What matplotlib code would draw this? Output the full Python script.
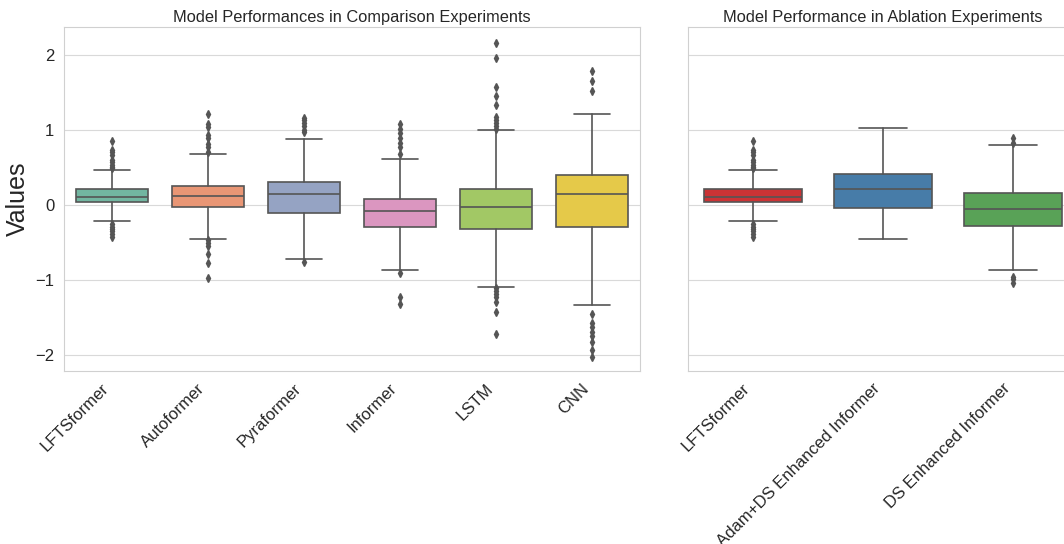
import matplotlib

matplotlib.use("Agg")
import matplotlib.pyplot as plt  # noqa: E402
import seaborn as sns  # noqa: E402

# Left panel: comparison experiments
comp_names = ["LFTSformer", "Autoformer", "Pyraformer", "Informer", "LSTM", "CNN"]
comp_q1 = [0.035, -0.031, -0.107, -0.29, -0.316, -0.298]
comp_med = [0.11, 0.12, 0.147, -0.085, -0.03, 0.147]
comp_q3 = [0.213, 0.258, 0.31, 0.085, 0.22, 0.395]
comp_whislo = [-0.218, -0.449, -0.715, -0.858, -1.09, -1.33]
comp_whishi = [0.47, 0.675, 0.875, 0.62, 0.995, 1.21]
comp_fliers = [
    [0.853, 0.74, 0.71, 0.67, 0.6, 0.57, 0.54, 0.51, 0.49,
     -0.25, -0.29, -0.32, -0.35, -0.38, -0.42],
    [1.21, 1.08, 1.035, 0.93, 0.89, 0.82, 0.77, 0.71,
     -0.47, -0.51, -0.55, -0.645, -0.77, -0.97],
    [1.16, 1.13, 1.10, 1.05, 1.0, 0.97, -0.755],
    [1.08, 1.02, 0.955, 0.89, 0.83, 0.78, 0.675, -0.9, -1.22, -1.32],
    [2.16, 1.96, 1.58, 1.45, 1.34, 1.17, 1.14, 1.10, 1.05, 1.02,
     -1.11, -1.15, -1.19, -1.23, -1.29, -1.42, -1.72],
    [1.78, 1.65, 1.52, -1.45, -1.57, -1.63, -1.69, -1.75, -1.82, -1.93, -2.02],
]

# Right panel: ablation experiments
abl_names = ["LFTSformer", "Adam+DS Enhanced Informer", "DS Enhanced Informer"]
abl_q1 = [0.035, -0.045, -0.28]
abl_med = [0.11, 0.218, -0.05]
abl_q3 = [0.213, 0.41, 0.16]
abl_whislo = [-0.218, -0.45, -0.862]
abl_whishi = [0.47, 1.03, 0.8]
abl_fliers = [
    comp_fliers[0],
    [],
    [0.89, 0.83, -0.955, -0.99, -1.035],
]

sns.set_style("whitegrid")
plt.rcParams["font.family"] = ["Liberation Sans", "DejaVu Sans"]

LINE = "#555555"


def stats(q1, med, q3, lo, hi, fl):
    return [
        dict(q1=a, med=b, q3=c, whislo=d, whishi=e, fliers=f)
        for a, b, c, d, e, f in zip(q1, med, q3, lo, hi, fl)
    ]


def draw(ax, st, names, palette, title):
    bp = ax.bxp(
        st, positions=range(len(st)), widths=0.75, patch_artist=True,
        showfliers=True,
        boxprops=dict(edgecolor=LINE, linewidth=1.2),
        medianprops=dict(color=LINE, linewidth=1.2),
        whiskerprops=dict(color=LINE, linewidth=1.2),
        capprops=dict(color=LINE, linewidth=1.2),
        flierprops=dict(marker="d", markersize=4, markerfacecolor=LINE,
                        markeredgecolor=LINE),
        capwidths=0.375,
    )
    for patch, col in zip(bp["boxes"], palette):
        patch.set_facecolor(sns.desaturate(col, 0.75))
    ax.set_xlim(-0.5, len(st) - 0.5)
    ax.set_ylim(-2.21, 2.37)
    ax.set_xticks(range(len(st)))
    ax.set_xticklabels(names, rotation=45, ha="right", fontsize=12)
    ax.tick_params(axis="y", labelsize=12)
    ax.grid(False, axis="x")
    ax.grid(True, axis="y", color="#d9d9d9")
    for sp in ax.spines.values():
        sp.set_color("#d0d0d0")
    ax.set_title(title, fontsize=11.8, pad=4)


fig = plt.figure(figsize=(10.64, 5.44), dpi=100)
ax1 = fig.add_axes([0.0602, 0.318, 0.5413, 0.632])
ax2 = fig.add_axes([0.6466, 0.318, 0.3666, 0.632], sharey=ax1)

draw(ax1, stats(comp_q1, comp_med, comp_q3, comp_whislo, comp_whishi, comp_fliers),
     comp_names, sns.color_palette("Set2", 6),
     "Model Performances in Comparison Experiments")
draw(ax2, stats(abl_q1, abl_med, abl_q3, abl_whislo, abl_whishi, abl_fliers),
     abl_names, sns.color_palette("Set1", 3),
     "Model Performance in Ablation Experiments")

ax1.set_yticks([-2, -1, 0, 1, 2])
ax1.set_ylabel("Values", fontsize=18)
ax2.tick_params(axis="y", labelleft=False)

fig.savefig("out.png", dpi=100)
